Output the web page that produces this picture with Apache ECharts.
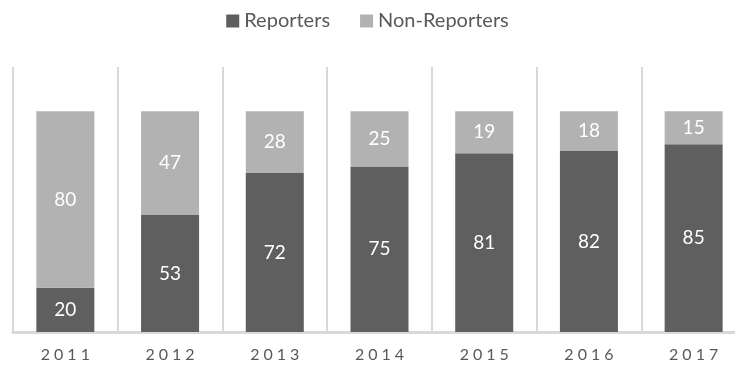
<!DOCTYPE html>
<html><head><meta charset="utf-8">
<script src="https://cdn.jsdelivr.net/npm/echarts@6/dist/echarts.min.js"></script>
<style>html,body{margin:0;padding:0;background:#fff}#c{width:735px;height:368px}</style>
</head><body><div id="c"></div>
<script>
const categories = ['2011','2012','2013','2014','2015','2016','2017'];
const reporters = [20, 53, 72, 75, 81, 82, 85];
const nonReporters = [80, 47, 28, 25, 19, 18, 15];
const seriesNames = ['Reporters', 'Non-Reporters'];

const chart = echarts.init(document.getElementById('c'));
const FONT = 'Lato';
const lbl = {show: true, position: 'inside', color: '#ffffff', fontSize: 19, fontFamily: FONT};
chart.setOption({
  animation: false,
  legend: {
    top: 6, left: 'center', itemWidth: 13, itemHeight: 13, itemGap: 30,
    icon: 'rect',
    textStyle: {color: '#595959', fontSize: 20, fontFamily: FONT},
    data: seriesNames
  },
  grid: {left: 13, width: 733, top: 67, bottom: 36, containLabel: false, outerBoundsMode: 'none'},
  xAxis: {
    type: 'category', data: categories,
    axisLine: {show: true, lineStyle: {color: '#d9d9d9', width: 3}},
    axisTick: {show: false},
    splitLine: {show: true, lineStyle: {color: '#d9d9d9', width: 2}},
    axisLabel: {color: '#595959', fontSize: 16, fontFamily: FONT, margin: 15,
      formatter: v => v.split('').join('\u2005')}
  },
  yAxis: {
    type: 'value', min: 0, max: 120,
    axisLine: {show: false}, axisTick: {show: false}, axisLabel: {show: false},
    splitLine: {show: false}
  },
  series: [
    {name: seriesNames[0], type: 'bar', stack: 'a', data: reporters, barWidth: 58,
     itemStyle: {color: '#5f5f5f'}, label: lbl},
    {name: seriesNames[1], type: 'bar', stack: 'a', data: nonReporters, barWidth: 58,
     itemStyle: {color: '#b2b2b2'}, label: lbl}
  ]
});
</script></body></html>
